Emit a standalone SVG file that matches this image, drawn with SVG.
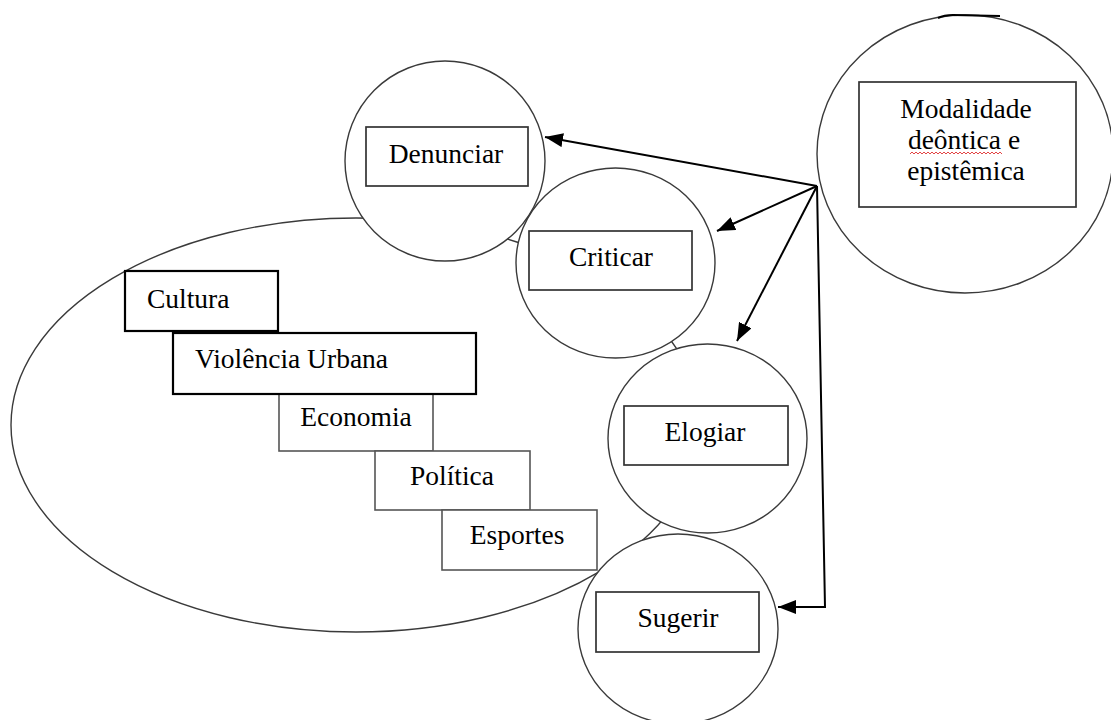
<svg xmlns="http://www.w3.org/2000/svg" width="1111" height="720" viewBox="0 0 1111 720">
<style>
.bg{fill:#ffffff}
.ring{fill:none;stroke:#3a3a3a;stroke-width:1.4}
.box{fill:none;stroke:#333333;stroke-width:1.7}
.boxb{fill:#ffffff;stroke:#000000;stroke-width:2.2}
.boxg{fill:#ffffff;stroke:#555555;stroke-width:1.6}
.t{font-family:"Liberation Serif","Times New Roman",serif;font-size:27.5px;fill:#000000}
.c{text-anchor:middle}
.edge{fill:none;stroke:#000000;stroke-width:2}
</style>
<defs>
<marker id="ah" markerUnits="userSpaceOnUse" markerWidth="20" markerHeight="14" refX="18" refY="7" orient="auto">
<path d="M0,0 L18,7 L0,14 z" fill="#000000"/>
</marker>
<mask id="cut">
<rect x="0" y="0" width="1111" height="720" fill="#ffffff"/>
<circle cx="445" cy="161" r="100" fill="#000000"/>
<ellipse cx="615.5" cy="263" rx="99.5" ry="95" fill="#000000"/>
<ellipse cx="707.5" cy="438.5" rx="99.5" ry="94.5" fill="#000000"/>
<ellipse cx="678" cy="629" rx="100" ry="95" fill="#000000"/>
</mask>
</defs>
<rect class="bg" x="0" y="0" width="1111" height="720"/>

<g id="temas">
<ellipse class="ring" cx="356" cy="425" rx="345" ry="207" mask="url(#cut)"/>
</g>

<g id="cultura">
<rect class="boxb" x="125" y="271" width="153" height="60"/>
<text class="t" x="147" y="308">Cultura</text>
</g>
<g id="economia">
<rect class="boxg" x="279" y="394" width="154" height="57"/>
<text class="t c" x="356" y="426">Economia</text>
</g>
<g id="violencia">
<rect class="boxb" x="173" y="333" width="303" height="61"/>
<text class="t" x="195" y="368">Violência Urbana</text>
</g>
<g id="politica">
<rect class="boxg" x="375" y="451" width="155" height="59"/>
<text class="t c" x="452" y="485">Política</text>
</g>
<g id="esportes">
<rect class="boxg" x="442" y="510" width="155" height="60"/>
<text class="t c" x="517" y="544">Esportes</text>
</g>

<g id="denunciar">
<circle class="ring" cx="445" cy="161" r="100"/>
<rect class="box" x="366" y="127" width="162" height="59"/>
<text class="t c" x="446" y="163">Denunciar</text>
</g>
<g id="criticar">
<ellipse class="ring" cx="615.5" cy="263" rx="99.5" ry="95"/>
<rect class="box" x="529" y="231" width="163" height="59"/>
<text class="t c" x="611" y="266">Criticar</text>
</g>
<g id="elogiar">
<ellipse class="ring" cx="707.5" cy="438.5" rx="99.5" ry="94.5"/>
<rect class="box" x="624" y="406" width="164" height="59"/>
<text class="t c" x="705" y="441">Elogiar</text>
</g>
<g id="sugerir">
<ellipse class="ring" cx="678" cy="629" rx="100" ry="95"/>
<rect class="box" x="596" y="592" width="163" height="60"/>
<text class="t c" x="678" y="627">Sugerir</text>
</g>
<g id="modalidade">
<ellipse class="ring" cx="965" cy="154" rx="148" ry="139"/>
<path d="M938,18 Q944,15 953,15 L1000,16" fill="none" stroke="#000000" stroke-width="2"/>
<rect class="box" x="859" y="82" width="217" height="125"/>
<text class="t c" x="966" y="118">Modalidade</text>
<text class="t c" x="964" y="149">deôntica e</text>
<text class="t c" x="966" y="180">epistêmica</text>
<path d="M910,154 l2,-2 l2,2 l2,-2 l2,2 l2,-2 l2,2 l2,-2 l2,2 l2,-2 l2,2 l2,-2 l2,2 l2,-2 l2,2 l2,-2 l2,2 l2,-2 l2,2 l2,-2 l2,2 l2,-2 l2,2 l2,-2 l2,2 l2,-2 l2,2 l2,-2 l2,2 l2,-2 l2,2 l2,-2 l2,2 l2,-2 l2,2 l2,-2 l2,2 l2,-2 l2,2 l2,-2 l2,2 l2,-2 l2,2 l2,-2 l2,2 l2,-2 l2,2" fill="none" stroke="#e03030" stroke-width="0.9"/>
</g>

<g id="connectors">
<line class="edge" x1="817" y1="186" x2="545" y2="137" marker-end="url(#ah)"/>
<line class="edge" x1="817" y1="186" x2="717" y2="231" marker-end="url(#ah)"/>
<line class="edge" x1="817" y1="186" x2="737" y2="341" marker-end="url(#ah)"/>
<polyline class="edge" points="817,186 825,607 778,607" marker-end="url(#ah)"/>
</g>
</svg>
